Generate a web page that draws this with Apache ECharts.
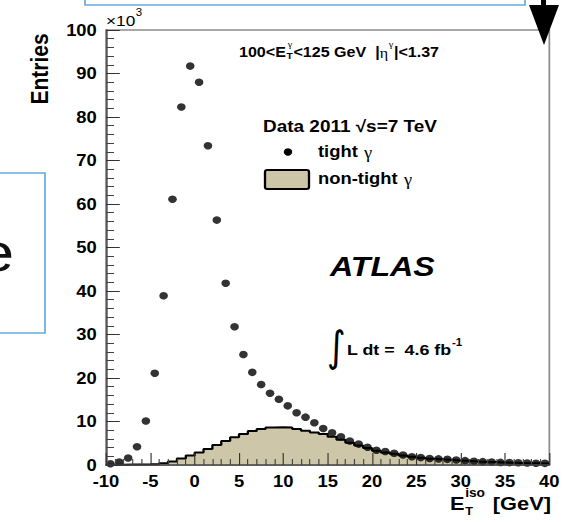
<!DOCTYPE html>
<html>
<head>
<meta charset="utf-8">
<script src="https://cdn.jsdelivr.net/npm/echarts@6/dist/echarts.min.js"></script>
<style>
  html, body { margin: 0; padding: 0; background: #fff; overflow: hidden; width: 563px; height: 522px; }
  #chart { height: 522px; transform-origin: 0 0; }
</style>
</head>
<body>
<div id="chart"></div>
<script>
// Isolation energy spectrum, 1 GeV bins from -10 to 40 GeV (entries in units of 10^3)
const binLow = -10;
const binWidth = 1;

// tight photon candidates (points at bin centres)
const tightCounts = [
  0.3, 0.7, 1.6, 4.2, 10.1, 21.1, 38.9, 61.1, 82.3, 91.7,
  88.0, 73.4, 56.3, 41.8, 31.8, 25.4, 21.3, 18.5, 16.5, 15.1,
  13.6, 12.0, 11.0, 9.7, 8.4, 7.4, 6.5, 5.5, 4.8, 4.1,
  3.4, 3.1, 2.7, 2.3, 1.9, 1.7, 1.5, 1.4, 1.3, 1.15,
  1.0, 0.85, 0.77, 0.7, 0.6, 0.55, 0.5, 0.45, 0.4, 0.38
];

// non-tight photon candidates (filled histogram)
const nonTightCounts = [
  0.05, 0.08, 0.1, 0.12, 0.15, 0.2, 0.4, 0.8, 1.5, 2.2,
  2.9, 3.7, 4.6, 5.5, 6.4, 7.1, 7.8, 8.3, 8.6, 8.7,
  8.6, 8.3, 7.9, 7.5, 7.1, 6.5, 5.8, 5.1, 4.5, 3.9,
  3.3, 2.9, 2.6, 2.2, 1.9, 1.65, 1.45, 1.3, 1.2, 1.05,
  0.95, 0.82, 0.74, 0.67, 0.58, 0.53, 0.48, 0.43, 0.39, 0.36
];

// axis ranges
const xRange = [-10, 40], xStep = 5;
const yRange = [0, 100], yStep = 10;

// the figure is drawn narrow and widened horizontally as a whole
const W = 563, H = 522, STRETCH = 1.149;
const W0 = W / STRETCH;
const px = v => v / STRETCH;

const dom = document.getElementById('chart');
dom.style.width = W0 + 'px';
dom.style.transform = 'scaleX(' + STRETCH + ')';

const tightData = tightCounts.map((v, i) => [binLow + (i + 0.5) * binWidth, v]);
const histData = nonTightCounts.map((v, i) => [binLow + i * binWidth, v]);
histData.push([binLow + nonTightCounts.length * binWidth, nonTightCounts[nonTightCounts.length - 1]]);

const FF = "'Liberation Sans', Arial, Helvetica, sans-serif";
const GREEK = "'Liberation Serif', 'DejaVu Serif', serif";

// text width helper for laying out multi-part labels
const measureCtx = document.createElement('canvas').getContext('2d');
function tw(text, font) { measureCtx.font = font; return measureCtx.measureText(text).width; }

// text element at chart-space x (left aligned, vertically centred on yc)
function txtC(xc, yc, text, font, extra) {
  const el = {
    type: 'text', x: xc, y: yc, z: 100, silent: true,
    style: {
      text: text, font: font, fill: '#000',
      align: 'left', textAlign: 'left',
      verticalAlign: 'middle', textVerticalAlign: 'middle'
    }
  };
  if (extra) {
    Object.keys(extra).forEach(k => {
      if (k === 'style') Object.assign(el.style, extra.style);
      else el[k] = extra[k];
    });
  }
  return el;
}

const graphics = [];

// frame decorations around the figure
graphics.push(
  { type: 'rect', z: 100, silent: true,
    shape: { x: px(85), y: -10, width: px(525 - 85), height: 15 },
    style: { fill: 'none', stroke: '#68ace0', lineWidth: 1.5 } },
  { type: 'rect', z: 100, silent: true,
    shape: { x: -10, y: 173, width: px(45) + 10, height: 333 - 173 },
    style: { fill: 'none', stroke: '#68ace0', lineWidth: 1.5 } },
  txtC(px(14), 252, 'e', "54px " + FF, { style: { fill: '#111', align: 'right', textAlign: 'right' } }),
  { type: 'rect', z: 100, silent: true,
    shape: { x: px(541), y: 0, width: px(5), height: 6 },
    style: { fill: '#000' } },
  { type: 'polygon', z: 100, silent: true,
    shape: { points: [[px(529), 5], [px(559), 5], [px(544), 45]] },
    style: { fill: '#000' } }
);

// y axis title and multiplier
graphics.push(
  { type: 'text', z: 100, silent: true, x: px(40), y: 69, rotation: Math.PI / 2,
    style: { text: 'Entries', font: "bold 21px " + FF, fill: '#000', align: 'center', textAlign: 'center', verticalAlign: 'middle', textVerticalAlign: 'middle' } }
);
(function () {
  const f1 = "15px " + FF, f2 = "10px " + FF;
  let x = px(106);
  graphics.push(txtC(x, 20, '×10', f1));
  x += tw('×10', f1) + 0.5;
  graphics.push(txtC(x, 12, '3', f2));
})();

// x axis title: E_T^iso [GeV]
(function () {
  const fb = "bold 19px " + FF, fs = "bold 12px " + FF, ft = "bold 11px " + FF;
  let x = px(450);
  graphics.push(txtC(x, 503, 'E', fb));
  x += tw('E', fb) + 0.5;
  graphics.push(txtC(x, 493, 'iso', fs));
  graphics.push(txtC(x, 511, 'T', ft));
  x += tw('iso', fs) + tw(' ', fb) + 1.5;
  graphics.push(txtC(x, 503, '[GeV]', fb));
})();

// selection: 100<E_T^γ<125 GeV  |η^γ|<1.37
(function () {
  const fb = "bold 14px " + FF, fsm = "bold 9px " + FF, fg = "9px " + GREEK;
  const y = 52;
  let x = px(239);
  graphics.push(txtC(x, y, '100<E', fb));
  x += tw('100<E', fb) + 0.5;
  graphics.push(txtC(x + 1, y - 8, 'γ', fg));
  graphics.push(txtC(x, y + 4, 'T', fsm));
  x += Math.max(tw('γ', fg) + 1, tw('T', fsm)) + 0.5;
  graphics.push(txtC(x, y, '<125 GeV', fb));
  x += tw('<125 GeV', fb) + tw('  ', fb);
  graphics.push(txtC(x, y, '|', fb));
  x += tw('|', fb);
  graphics.push(txtC(x, y + 1, 'η', "14px " + GREEK));
  x += tw('η', "14px " + GREEK) + 0.5;
  graphics.push(txtC(x, y - 8, 'γ', fg));
  x += tw('γ', fg) + 0.5;
  graphics.push(txtC(x, y, '|<1.37', fb));
})();

// legend
(function () {
  const fd = "bold 16.5px " + FF, fl = "bold 16px " + FF, fg = "16px " + GREEK;
  graphics.push(txtC(px(263), 126, 'Data 2011 √s=7 TeV', fd));
  graphics.push({ type: 'circle', z: 100, silent: true, shape: { cx: px(288), cy: 152, r: 3.7 }, style: { fill: '#000' } });
  let x = px(318);
  graphics.push(txtC(x, 151, 'tight', fl));
  x += tw('tight ', fl) + 1;
  graphics.push(txtC(x, 153, 'γ', fg));
  graphics.push({ type: 'rect', z: 100, silent: true,
    shape: { x: px(265), y: 170, width: px(309 - 265), height: 19, r: 2 },
    style: { fill: '#cdc6a8', stroke: '#000', lineWidth: 2 } });
  x = px(318);
  graphics.push(txtC(x, 178, 'non-tight', fl));
  x += tw('non-tight ', fl) + 1;
  graphics.push(txtC(x, 180, 'γ', fg));
})();

// experiment label and luminosity
(function () {
  graphics.push(txtC(px(330), 266, 'ATLAS', "italic bold 28px " + FF));
  graphics.push(txtC(px(327), 347, '∫', "42px 'DejaVu Sans', sans-serif", { scaleX: 0.75 }));
  const fl = "bold 15.5px " + FF;
  let x = px(347);
  graphics.push(txtC(x, 350, 'L dt =  4.6 fb', fl));
  x += tw('L dt =  4.6 fb', fl) + 0.5;
  graphics.push(txtC(x, 342, '-1', "bold 10px " + FF));
})();

const chart = echarts.init(dom, null, { renderer: 'svg' });
chart.setOption({
  animation: false,
  backgroundColor: '#fff',
  grid: {
    left: px(106), right: px(W - 557), top: 30, bottom: 57,
    show: true, borderColor: '#8c8c8c', borderWidth: 1.5, backgroundColor: 'transparent'
  },
  xAxis: {
    type: 'value', min: xRange[0], max: xRange[1], interval: xStep, z: 10,
    axisLine: { show: true, onZero: false, lineStyle: { color: '#444', width: 1.5 } },
    axisTick: { show: true, inside: true, length: 12, lineStyle: { color: '#333', width: 1 } },
    minorTick: { show: true, splitNumber: 5, length: 6, lineStyle: { color: '#444', width: 1 } },
    splitLine: { show: false },
    axisLabel: { show: true, showMinLabel: true, showMaxLabel: true, margin: 8, color: '#000', fontSize: 16, fontWeight: 'bold', fontFamily: FF }
  },
  yAxis: {
    type: 'value', min: yRange[0], max: yRange[1], interval: yStep, z: 10,
    axisLine: { show: true, onZero: false, lineStyle: { color: '#555', width: 1.5 } },
    axisTick: { show: true, inside: true, length: 12, lineStyle: { color: '#333', width: 1 } },
    minorTick: { show: true, splitNumber: 5, length: 7, lineStyle: { color: '#444', width: 1 } },
    splitLine: { show: false },
    axisLabel: { show: true, showMinLabel: true, showMaxLabel: true, margin: 8, color: '#000', fontSize: 16, fontWeight: 'bold', fontFamily: FF }
  },
  series: [
    {
      name: 'non-tight γ', type: 'line', data: histData, step: 'end',
      symbol: 'none', z: 2,
      lineStyle: { color: '#000', width: 2 },
      areaStyle: { color: '#cdc6a8', opacity: 1 }
    },
    {
      name: 'tight γ', type: 'scatter', data: tightData, z: 3,
      symbol: 'circle', symbolSize: 7.5,
      itemStyle: { color: '#000' }
    }
  ],
  graphic: { elements: graphics }
});
</script>
</body>
</html>
